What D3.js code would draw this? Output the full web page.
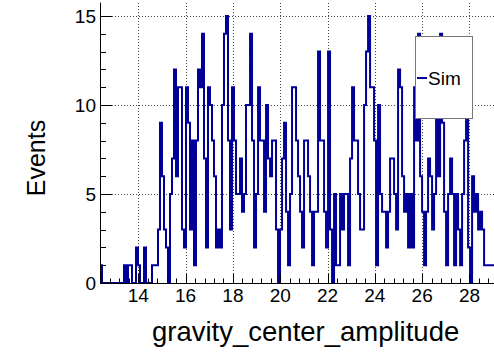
<!DOCTYPE html>
<html><head><meta charset="utf-8">
<script src="https://cdn.jsdelivr.net/npm/d3@7"></script>
<style>body{margin:0;background:#fff}svg{display:block}text{font-family:"Liberation Sans",Arial,Helvetica,sans-serif}</style>
</head><body><script>
// ---- data ----
const histXMin = 12.38;
const histBinWidth = 0.08457;
const counts = [
 1,0,0,0,0,0,0,0,0,0,
 0,0,1,0,1,1,0,0,2,1,
 0,0,2,0,0,0,1,1,1,3,
 9,6,3,2,0,5,7,12,6,11,
 11,3,2,11,9,3,8,1,8,12,
 11,14,7,2,11,10,8,6,2,3,
 2,10,14,15,8,3,11,8,5,5,
 7,4,5,10,10,14,8,2,5,11,
 8,8,4,10,7,6,8,8,3,0,
 3,7,9,4,1,5,11,11,8,6,
 4,2,8,8,6,4,1,4,4,13,
 8,8,4,2,13,3,0,5,1,1,
 5,3,5,5,1,7,11,8,8,5,
 3,3,10,13,15,11,11,8,1,10,
 5,4,4,2,4,7,7,5,3,12,
 11,6,4,5,2,5,2,11,8,14,
 6,4,1,4,7,6,3,5,10,6,
 14,9,4,1,5,7,5,1,5,3,
 1,5,8,10,2,0,6,4,5,3,
 4,3,1,1,1,1,1,1,0,0
];
const xMajorTicks = [14,16,18,20,22,24,26,28];
const yMajorTicks = [0,5,10,15];
const seriesName = "Sim";
const xTitle = "gravity_center_amplitude";
const yTitle = "Events";

// ---- layout ----
const W = 494, H = 352;
const frame = {left:100, right:500, top:2.65, bottom:283};
const xDomain = [12.38, 29.29];
const yDomain = [0, 15.75];

const svg = d3.select("body").append("svg").attr("width", W).attr("height", H);
const x = d3.scaleLinear().domain(xDomain).range([frame.left, frame.right]);
const y = d3.scaleLinear().domain(yDomain).range([frame.bottom, frame.top]);

svg.append("defs").append("clipPath").attr("id","fc").append("rect")
  .attr("x", frame.left).attr("y", frame.top-2).attr("width", frame.right-frame.left).attr("height", frame.bottom-frame.top+4);

// grid
const grid = svg.append("g").attr("stroke","#444").attr("stroke-width",1).attr("stroke-dasharray","1,2");
grid.selectAll("line.gx").data(xMajorTicks).join("line")
  .attr("x1", d=>Math.round(x(d))+0.5).attr("x2", d=>Math.round(x(d))+0.5)
  .attr("y1", frame.bottom).attr("y2", frame.top);
grid.selectAll("line.gy").data(yMajorTicks.filter(d=>d>0)).join("line")
  .attr("y1", d=>Math.round(y(d))+0.5).attr("y2", d=>Math.round(y(d))+0.5)
  .attr("x1", frame.left).attr("x2", W);

// histogram
const pts = [];
counts.forEach((c,i)=>{
  const e0 = histXMin + i*histBinWidth, e1 = histXMin + (i+1)*histBinWidth;
  pts.push([e0,c]); pts.push([e1,c]);
});
const line = d3.line().x(d=>x(d[0])).y(d=>y(d[1]));
svg.append("path").attr("clip-path","url(#fc)").attr("d", line(pts))
  .attr("fill","none").attr("stroke","#000099").attr("stroke-width",2).attr("stroke-linejoin","miter");

// axes
const ax = svg.append("g").attr("stroke","#000").attr("stroke-width",1);
ax.append("line").attr("x1",frame.left).attr("x2",W).attr("y1",frame.bottom+0.5).attr("y2",frame.bottom+0.5);
ax.append("line").attr("x1",frame.left+0.5).attr("x2",frame.left+0.5).attr("y1",frame.bottom).attr("y2",frame.top);

const xMinor = d3.range(31, 74).map(k=>+(k*0.4).toFixed(1)).filter(v=>!xMajorTicks.includes(v));
ax.selectAll("line.xmaj").data(xMajorTicks).join("line")
  .attr("x1", d=>Math.round(x(d))+0.5).attr("x2", d=>Math.round(x(d))+0.5)
  .attr("y1", frame.bottom).attr("y2", frame.bottom-9);
ax.selectAll("line.xmin").data(xMinor).join("line")
  .attr("x1", d=>Math.round(x(d))+0.5).attr("x2", d=>Math.round(x(d))+0.5)
  .attr("y1", frame.bottom).attr("y2", frame.bottom-4.5);
const yMinor = d3.range(1,16).filter(v=>!yMajorTicks.includes(v));
ax.selectAll("line.ymaj").data(yMajorTicks).join("line")
  .attr("y1", d=>Math.round(y(d))+0.5).attr("y2", d=>Math.round(y(d))+0.5)
  .attr("x1", frame.left).attr("x2", frame.left+12);
ax.selectAll("line.ymin").data(yMinor).join("line")
  .attr("y1", d=>Math.round(y(d))+0.5).attr("y2", d=>Math.round(y(d))+0.5)
  .attr("x1", frame.left).attr("x2", frame.left+6);

// tick labels
svg.append("g").selectAll("text").data(xMajorTicks).join("text")
  .attr("x", d=>x(d)).attr("y", 302).attr("text-anchor","middle")
  .attr("font-size",19).text(d=>d);
svg.append("g").selectAll("text").data(yMajorTicks).join("text")
  .attr("x", 96).attr("y", d=>y(d)+7).attr("text-anchor","end")
  .attr("font-size",19).text(d=>d);

// titles
svg.append("text").attr("x",152).attr("y",341).attr("font-size",27.5).text(xTitle);
svg.append("text").attr("transform","translate(45,158) rotate(-90)").attr("text-anchor","middle")
  .attr("font-size",25).text(yTitle);

// legend
const lg = svg.append("g");
lg.append("rect").attr("x",415.5).attr("y",36.5).attr("width",57).attr("height",82)
  .attr("fill","#fff").attr("stroke","#777").attr("stroke-width",1);
lg.append("line").attr("x1",417).attr("x2",427).attr("y1",78).attr("y2",78)
  .attr("stroke","#000099").attr("stroke-width",2);
lg.append("text").attr("x",428).attr("y",85).attr("font-size",19).text(seriesName);
</script></body></html>
